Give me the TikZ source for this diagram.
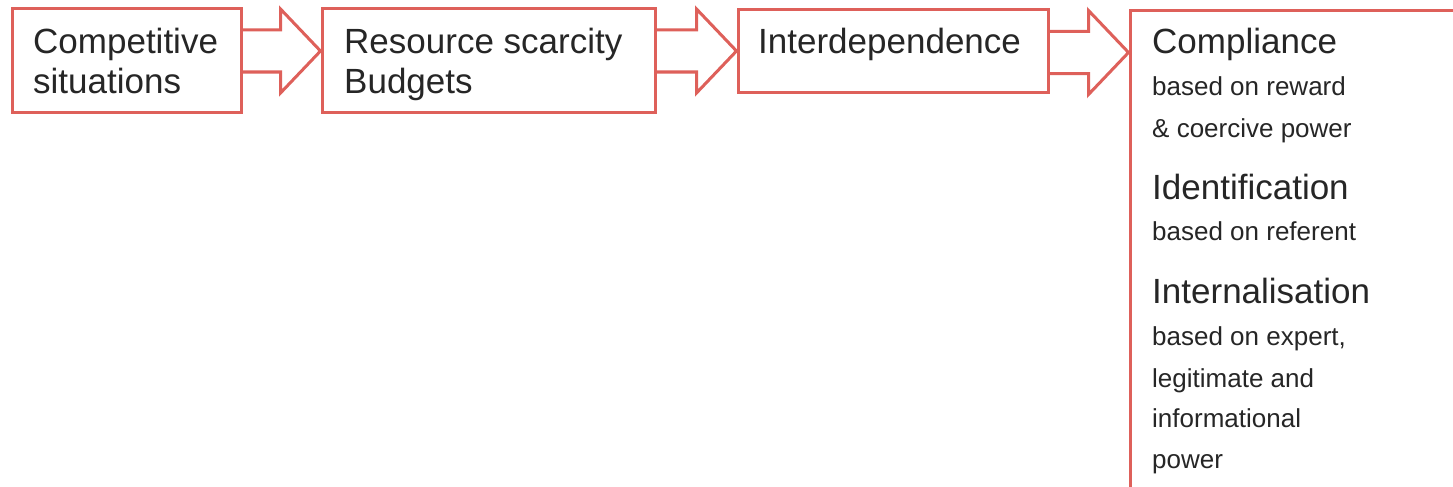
\documentclass[tikz,border=0pt]{standalone}
\usepackage{fontspec}
\setmainfont{Liberation Sans}
\usetikzlibrary{calc}
\definecolor{frame}{RGB}{222,96,90}
\definecolor{ink}{RGB}{38,38,38}
\begin{document}
\begin{tikzpicture}[x=1pt,y=-1pt,
  box/.style={draw=frame,line width=3pt,rectangle,inner sep=0pt},
  blk/.style={draw=frame,line width=3pt,line join=miter},
  head/.style={anchor=base west,inner sep=0pt,text=ink,font=\fontsize{35}{40}\selectfont},
  sub/.style={anchor=base west,inner sep=0pt,text=ink,font=\fontsize{26}{30}\selectfont}]
\clip (0,0) rectangle (1453,487);
\useasboundingbox (0,0) rectangle (1453,487);
\fill[white] (0,0) rectangle (1453,487);

% boxes
\node[box,minimum width=229pt,minimum height=103pt] (b1) at (126.5,60.5) {};
\node[box,minimum width=333pt,minimum height=103pt] (b2) at (488.5,60.5) {};
\node[box,minimum width=310pt,minimum height=82pt] (b3) at (893,51) {};
\node[box,minimum width=340pt,minimum height=520pt] (b4) at (1300,271) {};

% block arrows between boxes
\path (b1.east |- 0,51) coordinate (a1s) (b2.west |- 0,51) coordinate (a1e);
\path (b2.east |- 0,51) coordinate (a2s) (b3.west |- 0,51) coordinate (a2e);
\path (b3.east |- 0,52.5) coordinate (a3s) (b4.west |- 0,52.5) coordinate (a3e);
\foreach \s/\e in {a1s/a1e,a2s/a2e,a3s/a3e}{
  \draw[blk] ($(\s)+(0,-21)$) -- ($(\e)+(-40,-21)$) -- ($(\e)+(-40,-42)$) -- (\e)
    -- ($(\e)+(-40,42)$) -- ($(\e)+(-40,21)$) -- ($(\s)+(0,21)$);
}

% texts
\node[head] (t1a) at (33,53) {Competitive};
\node[head] (t1b) at (33,93) {situations};
\node[head] (t2a) at (344,53) {Resource scarcity};
\node[head] (t2b) at (344,93) {Budgets};
\node[head] (t3) at (758,54) {Interdependence};
\node[head] (c1) at (1152,54) {Compliance};
\node[sub] (c2) at (1152,95) {based on reward};
\node[sub] (c3) at (1152,137) {\& coercive power};
\node[head] (i1) at (1152,199) {Identification};
\node[sub] (i2) at (1152,240) {based on referent};
\node[head] (n1) at (1152,303) {Internalisation};
\node[sub] (n2) at (1152,345) {based on expert,};
\node[sub] (n3) at (1152,387) {legitimate and};
\node[sub] (n4) at (1152,427) {informational};
\node[sub] (n5) at (1152,468) {power};
\end{tikzpicture}
\end{document}
